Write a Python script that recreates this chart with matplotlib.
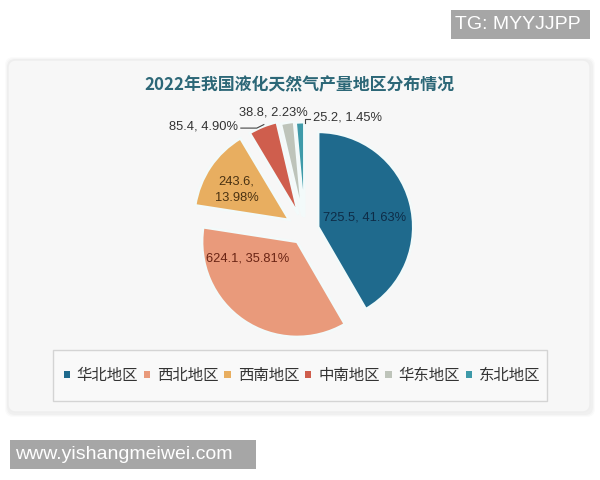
import matplotlib
matplotlib.use('Agg')
import matplotlib.pyplot as plt
from matplotlib.patches import Rectangle, FancyBboxPatch, Patch
import numpy as np

# ---- data ----
regions = ['华北地区', '西北地区', '西南地区', '中南地区', '华东地区', '东北地区']
values = [725.5, 624.1, 243.6, 85.4, 38.8, 25.2]
percents = ['41.63%', '35.81%', '13.98%', '4.90%', '2.23%', '1.45%']
title = '2022年我国液化天然气产量地区分布情况'
watermark_top = 'TG: MYYJJPP'
watermark_bottom = 'www.yishangmeiwei.com'

# ---- style ----
colors = ['#1f6a8d', '#e99a7b', '#e8ae60', '#cf5e4d', '#bec4ba', '#3e9aa9']
explode = [0.145, 0.145, 0.20, 0.18, 0.15, 0.14]
label_colors = ['#0e2c47', '#6a2414', '#4a3212', '#333333', '#333333', '#333333']

W, H = 600, 480
fig = plt.figure(figsize=(6, 4.8), dpi=100)
fig.patch.set_facecolor('white')

# background axes in pixel coordinates (y up)
bg = fig.add_axes([0, 0, 1, 1])
bg.set_xlim(0, W)
bg.set_ylim(0, H)
bg.axis('off')

def Y(y):
    return H - y

# panel with soft shadow
for i, a in enumerate([0.015, 0.02, 0.025]):
    off = 4 - i
    bg.add_patch(FancyBboxPatch((8 - off + 1, Y(412) - off - 1), 582 + 2 * off, 352 + 2 * off,
                                boxstyle='round,pad=0,rounding_size=8',
                                facecolor='#000000', alpha=a, edgecolor='none', zorder=0))
bg.add_patch(FancyBboxPatch((8, Y(412)), 582, 352, boxstyle='round,pad=0,rounding_size=8',
                            facecolor='#f7f7f7', edgecolor='#eeeeee', linewidth=1, zorder=1))

# title
bg.text(299, Y(85), title, ha='center', va='center', fontsize=12.2, fontweight='bold',
        color='#2c6777', family=['Noto Sans CJK SC', 'DejaVu Sans'], zorder=5)

# legend frame
bg.add_patch(Rectangle((53, Y(401)), 494, 51, facecolor='#f9f9f9', edgecolor='#d4d4d4',
                       linewidth=1, zorder=2))

# watermarks
bg.add_patch(Rectangle((451, Y(39)), 139, 29, facecolor='#a6a6a6', edgecolor='none', zorder=6))
bg.text(455, Y(24.5), watermark_top, ha='left', va='center', fontsize=14, color='white',
        family='Liberation Sans', zorder=7)
bg.add_patch(Rectangle((10, Y(469)), 246, 29, facecolor='#a6a6a6', edgecolor='none', zorder=6))
bg.text(15, Y(454.5), watermark_bottom, ha='left', va='center', fontsize=14, color='white',
        family='Liberation Sans', zorder=7)

# pie axes: 1 unit = 95 px
cx, cy = 304.9, 230.5
R = 95.0
half = 160.0
pax = fig.add_axes([(cx - half) / W, (Y(cy) - half) / H, 2 * half / W, 2 * half / H])
pax.patch.set_alpha(0)
wedges, _ = pax.pie(values, colors=colors, explode=explode, startangle=90,
                    counterclock=False, radius=1,
                    wedgeprops=dict(edgecolor='#f3fafa', linewidth=1.8))
pax.set_xlim(-half / R, half / R)
pax.set_ylim(-half / R, half / R)
pax.set_aspect('equal')
pax.axis('off')

def mid_angle(w):
    return np.deg2rad(0.5 * (w.theta1 + w.theta2))

lab_font = dict(family='Liberation Sans', fontsize=9.3)

# inside labels: (distance, angle in degrees) from wedge vertex
inside = {0: (0.50, 12), 1: (0.55, 199), 2: (0.64, 150)}
for i, (d, ang) in inside.items():
    w = wedges[i]
    vx, vy = w.center
    a = np.deg2rad(ang)
    txt = f'{values[i]}, {percents[i]}' if i != 2 else f'{values[i]},\n{percents[i]}'
    pax.text(vx + d * np.cos(a), vy + d * np.sin(a), txt, ha='center', va='center',
             color=label_colors[i], linespacing=1.5, **lab_font)

def outer_mid(i):
    w = wedges[i]
    m = mid_angle(w)
    vx, vy = w.center
    return vx + np.cos(m), vy + np.sin(m)

# 中南地区 label (left, with leader)
ox, oy = outer_mid(3)
pax.text(ox - 25 / R, oy + 0.5 / R, f'{values[3]}, {percents[3]}', ha='right', va='center',
         color=label_colors[3], **lab_font)
pax.plot([ox - 22 / R, ox - 6 / R, ox + 1 / R], [oy - 1.5 / R, oy - 1.5 / R, oy + 2 / R],
         color='#444444', linewidth=0.8)

# 华东地区 label
ox, oy = outer_mid(4)
pax.text(ox - 14 / R, oy + 10.6 / R, f'{values[4]}, {percents[4]}', ha='center', va='center',
         color=label_colors[4], **lab_font)

# 东北地区 label
ox, oy = outer_mid(5)
pax.text(ox + 13 / R, oy + 5 / R, f'{values[5]}, {percents[5]}', ha='left', va='center',
         color=label_colors[5], **lab_font)
pax.plot([ox + 5 / R, ox + 5 / R, ox + 10 / R], [oy - 0.7 / R, oy + 3.3 / R, oy + 3.3 / R],
         color='#444444', linewidth=0.8)

# legend
handles = [Patch(facecolor=c, edgecolor='none') for c in colors]
leg = bg.legend(handles, regions, ncol=6, loc='center', bbox_to_anchor=(302, Y(375.5)),
                bbox_transform=bg.transData, frameon=False,
                prop={'family': ['Noto Sans CJK SC', 'DejaVu Sans'], 'size': 11.1},
                handlelength=0.4, handleheight=0.4, handletextpad=0.45, columnspacing=0.38,
                labelcolor='#333333')
leg.set_zorder(5)

fig.savefig('out.png', dpi=100)
